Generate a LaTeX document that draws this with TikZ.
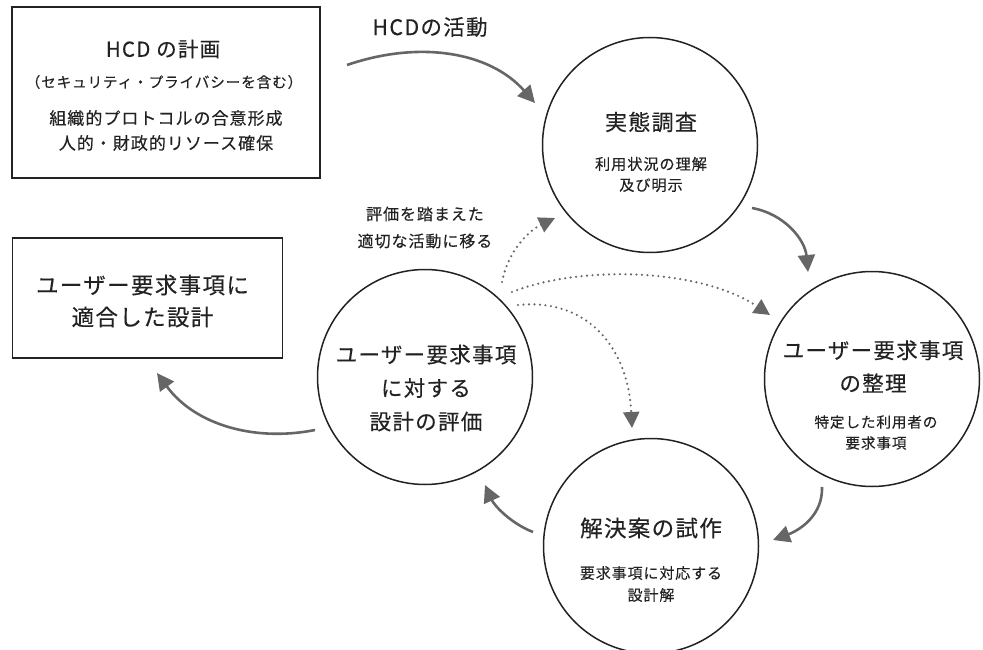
\documentclass[tikz,border=0pt]{standalone}
\usepackage{fontspec}
\setmainfont{Noto Sans CJK JP}[LetterSpace=6,FakeBold=0.3]
\usetikzlibrary{arrows.meta}
\definecolor{ink}{HTML}{222222}
\definecolor{arr}{HTML}{666666}
\newcommand{\fs}[2]{\fontsize{#1}{#2}\selectfont}
\tikzset{
  circ/.style={circle,draw=ink,line width=1.5pt,minimum size=215pt,inner sep=0pt},
  boxn/.style={draw=ink,line width=1.8pt,inner sep=0pt},
  txt/.style={text=ink,align=center,inner sep=0pt},
  flow/.style={draw=arr,line width=2.6pt,-{Triangle[length=17pt,width=17pt]}},
  dots/.style={draw=arr,line width=2.4pt,line cap=round,dash pattern=on 0pt off 5.5pt,-{Triangle[length=16pt,width=16pt]}},
}
\begin{document}
\begin{tikzpicture}[x=1pt,y=-1pt]
\useasboundingbox (0,0) rectangle (983,650);
% boxes
\node[boxn,minimum width=308pt,minimum height=171pt] (plan) at (166,92.5) {};
\node[txt,font=\fs{20.5}{24}] (planT) at (163,49) {HCD の計画};
\node[txt,font=\fs{14.6}{18}] (planS) at (164,82) {（セキュリティ・プライバシーを含む）};
\node[txt,font=\fs{17}{25}] (planU) at (166,130.5) {組織的プロトコルの合意形成\\人的・財政的リソース確保};
\node[boxn,minimum width=270pt,minimum height=120pt] (fit) at (147.5,298) {};
\node[txt,font=\fs{22.5}{32}] (fitT) at (142.5,301) {ユーザー要求事項に\\適合した設計};
% circles
\node[circ] (c1) at (650,145) {};
\node[circ] (c2) at (872,379) {};
\node[circ] (c3) at (651,546) {};
\node[circ] (c4) at (425,377) {};
% circle texts
\node[txt,font=\fs{22}{26}] (c1T) at (651,122) {実態調査};
\node[txt,font=\fs{15.2}{21}] (c1S) at (651,174.5) {利用状況の理解\\及び明示};
\node[txt,font=\fs{21.5}{33}] (c2T) at (873,366.5) {ユーザー要求事項\\の整理};
\node[txt,font=\fs{14.6}{21}] (c2S) at (876,432.5) {特定した利用者の\\要求事項};
\node[txt,font=\fs{22.5}{26}] (c3T) at (651,528) {解決案の試作};
\node[txt,font=\fs{15}{22}] (c3S) at (651,584) {要求事項に対応する\\設計解};
\node[txt,font=\fs{21.5}{33.5}] (c4T) at (426,388) {ユーザー要求事項\\に対する\\設計の評価};
% labels
\node[txt,font=\fs{21.5}{26}] (act) at (430,27) {HCDの活動};
\node[txt,font=\fs{16}{27}] (move) at (425,227.5) {評価を踏まえた\\適切な活動に移る};
% connector end points
\coordinate (a0) at (347,65);  \coordinate (a1) at (535,103);
\coordinate (b0) at (752,208); \coordinate (b1) at (808,272);
\coordinate (d0) at (822,487); \coordinate (d1) at (773,540);
\coordinate (e0) at (533,532); \coordinate (e1) at (485,485);
\coordinate (f0) at (315,430); \coordinate (f1) at (157,373);
\coordinate (g0) at (502,282); \coordinate (g1) at (555,218);
\coordinate (h0) at (512,292); \coordinate (h1) at (770,315);
\coordinate (i0) at (518,305); \coordinate (i1) at (632,428);
% solid arrows
\draw[flow] (a0) .. controls (420,40) and (490,52) .. (a1);
\draw[flow] (b0) .. controls (785,214) and (805,240) .. (b1);
\draw[flow] (d0) .. controls (823,515) and (800,530) .. (d1);
\draw[flow] (e0) .. controls (510,523) and (494,505) .. (e1);
\draw[flow] (f0) .. controls (255,442) and (195,425) .. (f1);
% dotted arrows
\draw[dots] (g0) .. controls (508,250) and (530,230) .. (g1);
\draw[dots] (h0) .. controls (580,265) and (700,268) .. (h1);
\draw[dots] (i0) .. controls (585,298) and (628,345) .. (i1);
\end{tikzpicture}
\end{document}
